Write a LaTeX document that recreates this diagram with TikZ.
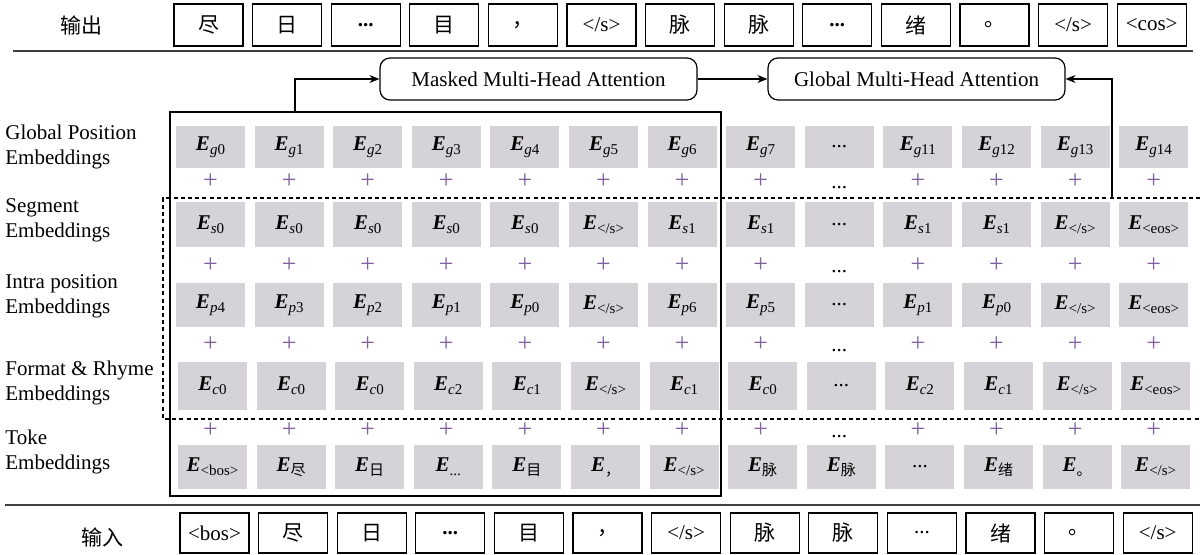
\documentclass[tikz,border=0pt]{standalone}
\usepackage{fontspec}
\setmainfont{Liberation Serif}
\newfontfamily\cjk{Noto Sans CJK SC}
\usetikzlibrary{arrows.meta}

\definecolor{embgray}{RGB}{213,211,216}
\definecolor{pluscol}{RGB}{128,96,160}

% embedding symbol with subscript
\newcommand{\Emb}[1]{\textbf{\textit{E}}\raisebox{-2pt}{\fontsize{7.5}{8}\selectfont #1}}
\newcommand{\tdots}{...}

\tikzset{
  tokbox/.style={draw, line width=0.6pt, minimum width=34.5pt, minimum height=21pt,
    inner sep=0pt, font=\fontsize{10.5}{12}\selectfont},
  embbox/.style={fill=embgray, minimum width=34.5pt, inner sep=0pt,
    font=\fontsize{10.5}{12}\selectfont},
  attbox/.style={draw, line width=0.6pt, rounded corners=5pt, minimum height=21pt,
    inner sep=0pt, font=\fontsize{10.5}{12}\selectfont},
  rowlabel/.style={anchor=west, align=left, inner sep=0pt,
    font=\fontsize{10.5}{12.5}\selectfont},
  plussign/.style={anchor=base, inner sep=0pt, font=\fontsize{13}{14}\selectfont},
  arr/.style={-{Stealth[length=5pt,width=4pt]}, line width=0.6pt}
}

\begin{document}
\begin{tikzpicture}[x=0.5pt,y=-0.5pt]
\useasboundingbox (0,0) rectangle (1200,555);

% Output
\node[font=\cjk\fontsize{10.5}{12}\selectfont] (lout) at (82,25) {输出};
\foreach \t [count=\i from 0] in {{\cjk 尽},{\cjk 日},{\textbf{\tdots}},{\cjk 目},{\cjk ，},{</s>},
    {\cjk 脉},{\cjk 脉},{\textbf{\tdots}},{\cjk 绪},{\cjk 。},{</s>},{<cos>}}
  \node[tokbox] (out\i) at ({208.5+\i*78.6},25) {\t};
\draw[line width=0.8pt, black!75]
(13,51)
--
(1193,51);

% Attention
\node[attbox, minimum width=158.5pt] (masked) at (538.5,79) {Masked Multi-Head Attention};
\node[attbox, minimum width=148.5pt] (global) at (916.5,79) {Global Multi-Head Attention};
\draw[arr] (masked) -- (global);

% Row labels
\node[rowlabel] (lg) at (5,147) {Global Position\\Embeddings};
\node[rowlabel] (ls) at (5,220) {Segment\\Embeddings};
\node[rowlabel] (lp) at (5,296) {Intra position\\Embeddings};
\node[rowlabel] (lc) at (5,383) {Format \& Rhyme\\Embeddings};
\node[rowlabel] (lt) at (5,452) {Toke\\Embeddings};

% Embeddings
\foreach \t [count=\i from 0] in {{\Emb{\textit{g}0}},{\Emb{\textit{g}1}},{\Emb{\textit{g}2}},
    {\Emb{\textit{g}3}},{\Emb{\textit{g}4}},{\Emb{\textit{g}5}},{\Emb{\textit{g}6}},
    {\Emb{\textit{g}7}},{\tdots},{\Emb{\textit{g}11}},{\Emb{\textit{g}12}},
    {\Emb{\textit{g}13}},{\Emb{\textit{g}14}}}
  \node[embbox, minimum height=21pt] (g\i) at ({210.5+\i*78.6},147) {\t};
\foreach \t [count=\i from 0] in {{\Emb{\textit{s}0}},{\Emb{\textit{s}0}},{\Emb{\textit{s}0}},
    {\Emb{\textit{s}0}},{\Emb{\textit{s}0}},{\Emb{</s>}},{\Emb{\textit{s}1}},
    {\Emb{\textit{s}1}},{\tdots},{\Emb{\textit{s}1}},{\Emb{\textit{s}1}},
    {\Emb{</s>}},{\Emb{<eos>}}}
  \node[embbox, minimum height=22.5pt] (s\i) at ({210.5+\i*78.6},225) {\t};
\foreach \t [count=\i from 0] in {{\Emb{\textit{p}4}},{\Emb{\textit{p}3}},{\Emb{\textit{p}2}},
    {\Emb{\textit{p}1}},{\Emb{\textit{p}0}},{\Emb{</s>}},{\Emb{\textit{p}6}},
    {\Emb{\textit{p}5}},{\tdots},{\Emb{\textit{p}1}},{\Emb{\textit{p}0}},
    {\Emb{</s>}},{\Emb{<eos>}}}
  \node[embbox, minimum height=22pt] (p\i) at ({210.5+\i*78.6},305) {\t};
\foreach \t [count=\i from 0] in {{\Emb{\textit{c}0}},{\Emb{\textit{c}0}},{\Emb{\textit{c}0}},
    {\Emb{\textit{c}2}},{\Emb{\textit{c}1}},{\Emb{</s>}},{\Emb{\textit{c}1}},
    {\Emb{\textit{c}0}},{\tdots},{\Emb{\textit{c}2}},{\Emb{\textit{c}1}},
    {\Emb{</s>}},{\Emb{<eos>}}}
  \node[embbox, minimum height=24pt] (c\i) at ({212.5+\i*78.6},386) {\t};
\foreach \t [count=\i from 0] in {{\Emb{<bos>}},{\Emb{\cjk 尽}},{\Emb{\cjk 日}},{\Emb{\tdots}},
    {\Emb{\cjk 目}},{\Emb{\cjk ，}},{\Emb{</s>}},{\Emb{\cjk 脉}},{\Emb{\cjk 脉}},
    {\tdots},{\Emb{\cjk 绪}},{\Emb{\cjk 。}},{\Emb{</s>}}}
  \node[embbox, minimum height=22pt] (t\i) at ({212.5+\i*78.6},467) {\t};

% Plus signs
\foreach \r/\y in {1/189,2/273,3/352,4/438}
  \foreach \i in {0,...,12}{
    \ifnum\i=8
      \node[plussign, font=\fontsize{10.5}{12}\selectfont] (plus\r-\i) at ({210.5+\i*78.6},\y) {\tdots};
    \else
      \node[plussign, text=pluscol] (plus\r-\i) at ({210.5+\i*78.6},\y) {+};
    \fi
  }

% Window
\draw[line width=0.7pt]
(170,112)
rectangle
(721,496);

\draw[dashed, dash pattern=on 2pt off 1.6pt, line width=0.6pt]
(1200,198)
--
(163,198)
--
(163,419)
--
(1200,419);

\coordinate (winT) at (295,112);
\coordinate (dashT) at (1112,198);
\draw[arr] (winT) |- (masked);
\draw[arr] (dashT) |- (global);

% Input
\draw[line width=0.8pt, black!75]
(5,505)
--
(1200,505);
\node[font=\cjk\fontsize{10.5}{12}\selectfont] (lin) at (102,537) {输入};
\foreach \t [count=\i from 0] in {{<bos>},{\cjk 尽},{\cjk 日},{\textbf{\tdots}},{\cjk 目},{\cjk ，},
    {</s>},{\cjk 脉},{\cjk 脉},{\tdots},{\cjk 绪},{\cjk 。},{</s>}}
  \node[tokbox, minimum height=20pt] (in\i) at ({214.5+\i*78.6},533) {\t};

\end{tikzpicture}
\end{document}
